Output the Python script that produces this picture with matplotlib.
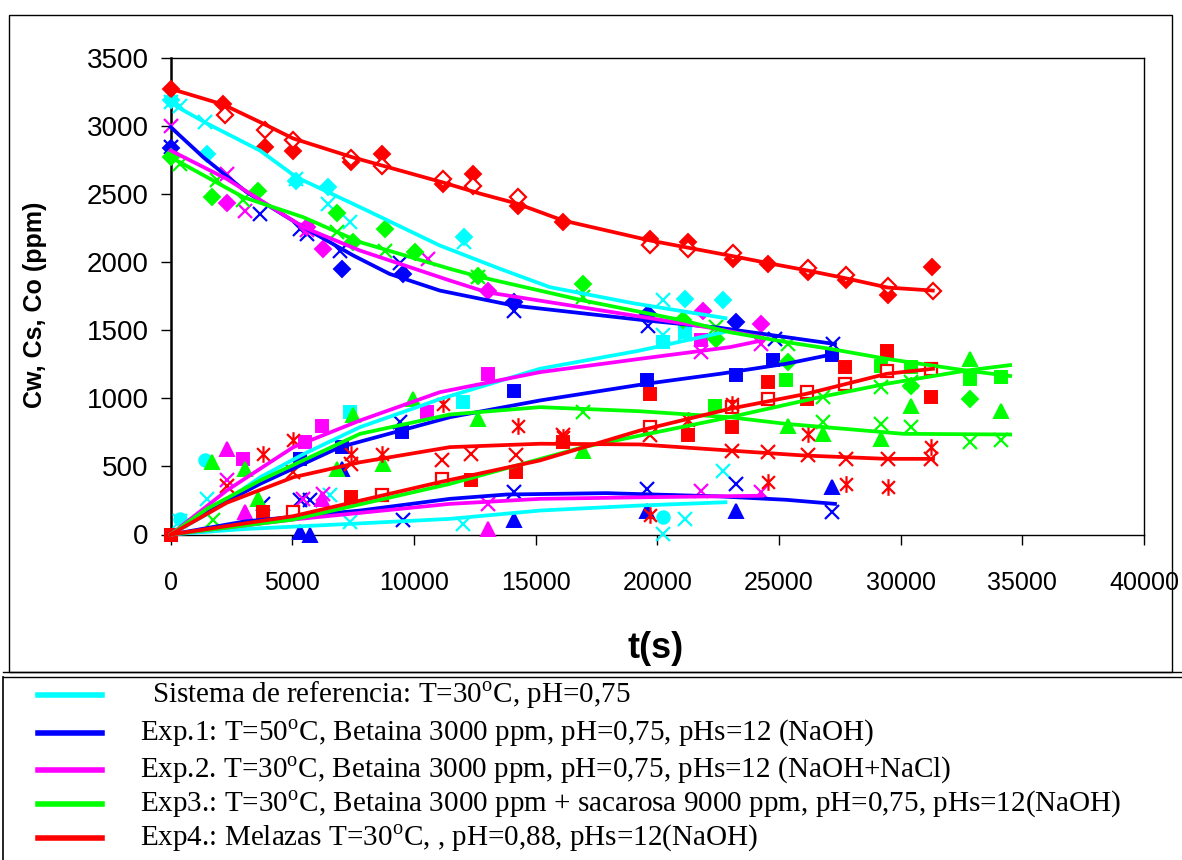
import matplotlib
matplotlib.use("Agg")
import matplotlib.pyplot as plt
from matplotlib.lines import Line2D
from matplotlib.patches import Rectangle
from matplotlib.path import Path

plt.rcParams['font.family'] = ['Liberation Sans', 'DejaVu Sans']
plt.rcParams['mathtext.fontset'] = 'custom'
plt.rcParams['mathtext.rm'] = 'Liberation Serif'

# ---------------- data (t in s, concentrations in ppm) ----------------
# Sistema de referencia (cyan)
ref_cw_fit_t = [0, 400, 1500, 3670, 5170, 7780, 11060, 13530, 15580, 19000, 22800]
ref_cw_fit = [3195, 3130, 3020, 2822, 2626, 2406, 2124, 1953, 1818, 1700, 1590]
ref_cs_fit_t = [0, 1500, 3670, 5450, 7780, 11060, 15170, 19280, 22800]
ref_cs_fit = [0, 150, 420, 590, 789, 995, 1218, 1352, 1490]
ref_co_fit_t = [0, 3000, 7370, 11470, 15170, 19280, 22800]
ref_co_fit = [0, 40, 78, 115, 176, 213, 237]
ref_d_t = [0, 1480, 5170, 6470, 12050, 21130, 22700]
ref_d = [3195, 2798, 2600, 2553, 2185, 1732, 1720]
ref_x_t = [0, 400, 1410, 5170, 6470, 7370, 12050, 20240,
           380, 1480, 6540, 7370, 12020, 20240, 20240, 21130, 21130, 22700]
ref_x = [3180, 3150, 3031, 2610, 2431, 2296, 2150, 1720,
         100, 262, 287, 90, 78, 1463, 5, 1477, 115, 470]
ref_s_t = [7370, 12020, 20240, 21130]
ref_s = [899, 972, 1414, 1490]
ref_o_t = [380, 1410, 20240]
ref_o = [115, 544, 127]

# Exp.1 (blue)
e1_cw_fit_t = [0, 1340, 3120, 5450, 7500, 9000, 11060, 14080, 19550, 22570, 27300]
e1_cw_fit = [2994, 2773, 2516, 2259, 2051, 1915, 1793, 1683, 1573, 1519, 1400]
e1_cs_fit_t = [0, 1500, 3670, 6950, 11470, 15170, 19550, 22570, 25300, 27300]
e1_cs_fit = [0, 170, 372, 642, 862, 985, 1108, 1181, 1255, 1328]
e1_co_fit_t = [0, 3000, 7780, 11470, 13800, 17910, 22570, 25300, 27300]
e1_co_fit = [0, 95, 176, 262, 294, 304, 280, 255, 225]
e1_d_t = [0, 7020, 9560, 14100, 19620, 23250]
e1_d = [2842, 1953, 1916, 1708, 1622, 1561]
e1_x_t = [0, 3670, 5310, 5590, 6950, 9420, 14100, 19620, 24820, 27220,
          3800, 5310, 5720, 9560, 9420, 14100, 19580, 23250, 27190]
e1_x = [2850, 2357, 2249, 2212, 2087, 1992, 1646, 1536, 1438, 1402,
        225, 250, 250, 103, 826, 311, 336, 372, 164]
e1_s_t = [0, 5310, 7020, 9490, 14100, 19580, 23250, 24760, 27190]
e1_s = [0, 556, 642, 752, 1058, 1132, 1169, 1279, 1316]
e1_tri_t = [5310, 5720, 7020, 14100, 19580, 23250, 27190]
e1_tri = [17, 0, 483, 103, 176, 176, 348]

# Exp.2 (magenta)
e2_cw_fit_t = [0, 2300, 5450, 7780, 11470, 12980, 17000, 22020, 24300]
e2_cw_fit = [2822, 2614, 2259, 2087, 1867, 1781, 1667, 1524, 1450]
e2_cs_fit_t = [0, 2300, 5040, 7780, 11060, 15170, 19280, 22980, 24300]
e2_cs_fit = [0, 323, 642, 838, 1046, 1193, 1291, 1377, 1426]
e2_co_fit_t = [0, 5040, 11470, 15170, 19550, 24300]
e2_co_fit = [0, 110, 225, 262, 274, 285]
e2_d_t = [2300, 6270, 5590, 13050, 21880, 24280]
e2_d = [2435, 2100, 2259, 1793, 1646, 1548]
e2_x_t = [0, 2300, 3050, 5590, 10580, 24280,
          2300, 5450, 6270, 13050, 21810, 21810, 24280]
e2_x = [3000, 2651, 2381, 2240, 2026, 1402,
        397, 262, 299, 225, 1340, 323, 311]
e2_s_t = [2990, 5520, 6200, 10520, 13050, 21810]
e2_s = [556, 679, 801, 899, 1181, 1426]
e2_tri_t = [2300, 3050, 6200, 13050]
e2_tri = [630, 164, 262, 42]

# Exp3 (green)
e3_cw_fit_t = [0, 2990, 5450, 7780, 11470, 12640, 16950, 21060, 22980,
               25300, 27090, 29420, 32700, 34500]
e3_cw_fit = [2773, 2479, 2332, 2149, 1953, 1896, 1720, 1573, 1487,
             1414, 1365, 1291, 1205, 1165]
e3_cs1_fit_t = [0, 1500, 3670, 7780, 11470, 15170, 19280, 22980, 25300, 30100, 34500]
e3_cs1_fit = [0, 190, 397, 740, 882, 936, 906, 862, 813, 740, 735]
e3_cs2_fit_t = [0, 5040, 11470, 16950, 22980, 26670, 29420, 32700, 34500]
e3_cs2_fit = [0, 110, 372, 642, 862, 1009, 1108, 1205, 1245]
e3_d_t = [0, 1680, 3600, 6820, 7500, 8800, 10040, 12640, 16950, 21060,
          22430, 25370, 30440, 32840]
e3_d = [2773, 2484, 2528, 2364, 2149, 2247, 2075, 1903, 1843, 1573,
        1438, 1266, 1095, 997]
e3_x_t = [385, 1890, 2990, 6820, 8800, 12640, 16950, 22430, 25370,
          1750, 16950, 26800, 29200, 30440, 32840, 34140, 26800, 29200, 30440]
e3_x = [2724, 2602, 2455, 2222, 2087, 1890, 1745, 1524, 1402,
        103, 899, 826, 813, 789, 679, 691, 1009, 1083, 1120]
e3_s_t = [22360, 25300, 29200, 30440, 32840, 34140]
e3_s = [948, 1132, 1242, 1230, 1144, 1156]
e3_tri_t = [1680, 3050, 3600, 6820, 7500, 8740, 9970, 12640, 16950,
            25370, 26800, 29200, 30440, 32840, 34140]
e3_tri = [531, 483, 262, 483, 875, 520, 997, 850, 617,
          801, 740, 703, 948, 1291, 911]

# Exp4 melazas (red)
e4_cw_fit_t = [0, 2160, 3800, 5030, 7500, 11200, 12700, 14220, 16120, 19700,
               22980, 24630, 26180, 27780, 29470, 31320]
e4_cw_fit = [3276, 3160, 3020, 2911, 2771, 2587, 2506, 2433, 2308, 2161,
             2050, 1992, 1940, 1882, 1815, 1793]
e4_cs1_fit_t = [0, 2300, 5040, 7780, 11470, 15170, 19280, 22980, 25990, 29420, 31330]
e4_cs1_fit = [0, 233, 421, 531, 642, 667, 662, 617, 581, 556, 556]
e4_cs2_fit_t = [0, 5040, 11060, 15170, 19280, 22980, 26130, 29420, 31330]
e4_cs2_fit = [0, 135, 385, 544, 764, 924, 1034, 1181, 1218]
e4_d_t = [0, 2160, 3870, 5040, 7430, 8670, 11200, 12430, 14280, 16130, 19690,
          21260, 23110, 24550, 26190, 27770, 29480, 31290]
e4_d = [3276, 3165, 2847, 2822, 2737, 2793, 2578, 2646, 2418, 2300, 2173,
        2149, 2026, 1990, 1928, 1867, 1757, 1965]
e4_od_t = [2230, 3870, 5040, 7430, 8670, 11200, 12430, 14280, 19690, 21260,
           23110, 26190, 27770, 29480, 31330]
e4_od = [3080, 2974, 2901, 2768, 2712, 2614, 2558, 2484, 2129, 2100,
         2068, 1960, 1904, 1830, 1793]
e4_s_t = [0, 3800, 7430, 12360, 14210, 16130, 19690, 21260, 23050, 24550,
          26130, 27700, 29420, 31260]
e4_s = [0, 164, 274, 397, 458, 679, 1034, 728, 789, 1120,
        997, 1230, 1352, 1009]
e4_os_t = [5040, 8670, 11130, 19690, 23050, 24550, 26130, 27700, 29420, 31260]
e4_os = [164, 287, 409, 789, 936, 997, 1046, 1107, 1205, 1218]
e4_ast_t = [3800, 5040, 7430, 8670, 11200, 14280, 16130, 19690, 21260,
            23050, 24550, 26190, 27770, 29480, 31260]
e4_ast = [593, 691, 593, 593, 960, 801, 715, 140, 838,
          960, 385, 740, 372, 348, 642]
e4_x_t = [2300, 5040, 7430, 11130, 12360, 14210, 16130, 19690, 23050,
          24550, 26190, 27770, 29480, 31260]
e4_x = [360, 458, 520, 544, 593, 581, 728, 728, 617,
        605, 581, 556, 556, 556]

legend_labels = [
    r'Sistema de referencia: T=30$^{\rm o}$C, pH=0,75',
    r'Exp.1: T=50$^{\rm o}$C, Betaina 3000 ppm, pH=0,75, pHs=12 (NaOH)',
    r'Exp.2. T=30$^{\rm o}$C, Betaina 3000 ppm, pH=0,75, pHs=12 (NaOH+NaCl)',
    r'Exp3.: T=30$^{\rm o}$C, Betaina 3000 ppm + sacarosa 9000 ppm, pH=0,75, pHs=12(NaOH)',
    r'Exp4.: Melazas T=30$^{\rm o}$C, , pH=0,88, pHs=12(NaOH)',
]

CYAN, BLUE, MAG, GREEN, RED = '#00FFFF', '#0000FF', '#FF00FF', '#00FF00', '#FF0000'
legend_colors = [CYAN, BLUE, MAG, GREEN, RED]

W, H = 1182, 860
def fx(px):
    return px / W
def fy(py):
    return 1 - py / H

# excel style asterisk: an x with a vertical bar
ASTER = Path([(-1, -1), (1, 1), (-1, 1), (1, -1), (0, -1.3), (0, 1.3)],
             [Path.MOVETO, Path.LINETO, Path.MOVETO, Path.LINETO, Path.MOVETO, Path.LINETO])

fig = plt.figure(figsize=(W / 100, H / 100), dpi=100)
ax = fig.add_axes([fx(170.7), fy(534.5), (1144 - 170.7) / W, (534.5 - 58.3) / H])


def pts(t, v, color, marker, ms=8, filled=True, mew=1.4):
    ax.plot(t, v, linestyle='none', marker=marker, ms=ms, color=color,
            mfc=color if filled else 'white', mec=color, mew=mew,
            clip_on=False, zorder=3)


def fit(t, v, color):
    ax.plot(t, v, color=color, lw=2.7, zorder=4, clip_on=False,
            solid_joinstyle='round')


# markers
pts(ref_d_t, ref_d, CYAN, 'D', 8)
pts(ref_x_t, ref_x, CYAN, 'x', 10, mew=1.6)
pts(ref_s_t, ref_s, CYAN, 's', 8)
pts(ref_o_t, ref_o, CYAN, 'o', 9)

pts(e1_d_t, e1_d, BLUE, 'D', 8)
pts(e1_x_t, e1_x, BLUE, 'x', 10, mew=1.6)
pts(e1_s_t, e1_s, BLUE, 's', 8)
pts(e1_tri_t, e1_tri, BLUE, '^', 10)

pts(e2_d_t, e2_d, MAG, 'D', 8)
pts(e2_x_t, e2_x, MAG, 'x', 10, mew=1.6)
pts(e2_s_t, e2_s, MAG, 's', 8)
pts(e2_tri_t, e2_tri, MAG, '^', 10)

pts(e3_d_t, e3_d, GREEN, 'D', 8)
pts(e3_x_t, e3_x, GREEN, 'x', 10, mew=1.6)
pts(e3_s_t, e3_s, GREEN, 's', 8)
pts(e3_tri_t, e3_tri, GREEN, '^', 10)

pts(e4_d_t, e4_d, RED, 'D', 8)
pts(e4_od_t, e4_od, RED, 'D', 8, filled=False, mew=1.6)
pts(e4_s_t, e4_s, RED, 's', 8)
pts(e4_os_t, e4_os, RED, 's', 8, filled=False, mew=1.6)
pts(e4_ast_t, e4_ast, RED, ASTER, 12, mew=1.6)
pts(e4_x_t, e4_x, RED, 'x', 10, mew=1.6)

# fitted curves
fit(ref_cw_fit_t, ref_cw_fit, CYAN)
fit(ref_cs_fit_t, ref_cs_fit, CYAN)
fit(ref_co_fit_t, ref_co_fit, CYAN)
fit(e1_cw_fit_t, e1_cw_fit, BLUE)
fit(e1_cs_fit_t, e1_cs_fit, BLUE)
fit(e1_co_fit_t, e1_co_fit, BLUE)
fit(e2_cw_fit_t, e2_cw_fit, MAG)
fit(e2_cs_fit_t, e2_cs_fit, MAG)
fit(e2_co_fit_t, e2_co_fit, MAG)
fit(e3_cw_fit_t, e3_cw_fit, GREEN)
fit(e3_cs1_fit_t, e3_cs1_fit, GREEN)
fit(e3_cs2_fit_t, e3_cs2_fit, GREEN)
fit(e4_cw_fit_t, e4_cw_fit, RED)
fit(e4_cs1_fit_t, e4_cs1_fit, RED)
fit(e4_cs2_fit_t, e4_cs2_fit, RED)

ax.set_xlim(0, 40000)
ax.set_ylim(0, 3500)
ax.set_xticks(range(0, 40001, 5000))
ax.set_yticks(range(0, 3501, 500))
ax.tick_params(direction='out', length=7, width=1, labelsize=18, pad=9)
ax.tick_params(axis='x', pad=19)
ax.tick_params(axis='y', labelsize=20)
for s in ax.spines.values():
    s.set_linewidth(1.0)
ax.spines['left'].set_linewidth(1.8)

fig.text(fx(35), fy(305), 'Cw, Cs, Co (ppm)', rotation=90, ha='center', va='center',
         fontsize=18, fontweight='bold')
fig.text(fx(656), fy(648), 't(s)', ha='center', va='center', fontsize=26, fontweight='bold')

# chart frame and legend box
fig.add_artist(Rectangle((fx(9), fy(672)), (1172 - 9) / W, (672 - 15) / H,
                         transform=fig.transFigure, fill=False, ec='black', lw=1))
fig.add_artist(Line2D([fx(3), 1], [fy(672), fy(672)], color='black', lw=1))
fig.add_artist(Line2D([fx(3), 1], [fy(677), fy(677)], color='black', lw=1))
fig.add_artist(Line2D([fx(3), fx(3)], [fy(677), 0], color='black', lw=1.2))

leg_y = [695, 733, 770, 804, 838]
leg_x = [152, 140, 140, 140, 140]
for lab, col, y, x in zip(legend_labels, legend_colors, leg_y, leg_x):
    fig.add_artist(Line2D([fx(38), fx(102)], [fy(y), fy(y)], color=col, lw=4))
    fig.text(fx(x), fy(y), lab, ha='left', va='center', fontsize=21,
             family='Liberation Serif')

fig.savefig('out.png', dpi=100)
